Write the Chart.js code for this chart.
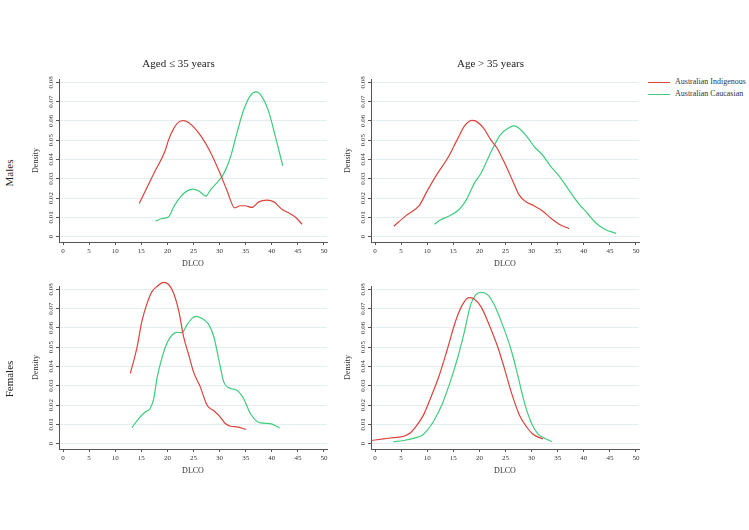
<!DOCTYPE html>
<html><head><meta charset="utf-8">
<script src="https://cdn.jsdelivr.net/npm/chart.js@4.4.1/dist/chart.umd.min.js"></script>
<style>
body{margin:0;background:#fff;width:749px;height:530px;position:relative;overflow:hidden;font-family:"Liberation Serif",serif;color:#222}
canvas{position:absolute}
.row{position:absolute;font-size:11px;white-space:nowrap;transform:translate(-50%,-50%) rotate(-90deg)}
.leg{position:absolute;font-size:8px;white-space:nowrap;color:#333;line-height:10px}
.sw{position:absolute;height:0;border-top:1.2px solid}
</style></head><body>
<canvas id="c1" width="300" height="215" style="left:30px;top:55px;width:300px;height:215px"></canvas>
<canvas id="c2" width="300" height="215" style="left:342px;top:55px;width:300px;height:215px"></canvas>
<canvas id="c3" width="300" height="215" style="left:30px;top:262px;width:300px;height:215px"></canvas>
<canvas id="c4" width="300" height="215" style="left:342px;top:262px;width:300px;height:215px"></canvas>
<div class="row" style="left:9px;top:173px">Males</div>
<div class="row" style="left:9px;top:379px">Females</div>
<div class="sw" style="left:648px;top:82px;width:22px;border-color:#d9443c"></div>
<div class="leg" style="left:675px;top:77px">Australian Indigenous</div>
<div class="sw" style="left:648px;top:94px;width:22px;border-color:#3fcc7c"></div>
<div class="leg" style="left:675px;top:89px">Australian Caucasian</div>
<script>
const colTitles = ['Aged \u2264 35 years', 'Age > 35 years'];
const seriesNames = ['Australian Indigenous', 'Australian Caucasian'];
const xTicks = [0,5,10,15,20,25,30,35,40,45,50];
const yTicks = [0,0.01,0.02,0.03,0.04,0.05,0.06,0.07,0.08];

// Males, aged <= 35
const mYoungIndX = [14.6,17.4,19.6,20.2,21.2,22.5,23.1,24.1,25.35,26.6,28.2,30.1,31.4,32.9,34.0,34.9,36.2,37.5,39.1,40.4,41.95,43.5,44.8,45.8];
const mYoungIndY = [0.0171,0.0327,0.0448,0.050,0.056,0.0599,0.0601,0.059,0.0558,0.0514,0.044,0.0327,0.024,0.0149,0.016,0.016,0.0151,0.018,0.0189,0.018,0.0142,0.0119,0.0094,0.0064];
const mYoungCauX = [17.7,19.0,20.2,21.2,22.5,23.8,24.9,26.0,27.4,28.2,29.5,30.65,32.1,33.3,34.6,35.9,37.0,38.1,39.4,40.7,42.1];
const mYoungCauY = [0.008,0.0094,0.0102,0.0154,0.0206,0.0237,0.0246,0.0237,0.021,0.024,0.028,0.0319,0.0414,0.0535,0.0656,0.0731,0.075,0.0726,0.0648,0.0518,0.0367];

// Males, age > 35
const mOldIndX = [3.6,6.0,8.5,9.9,11.8,14.1,15.7,17.3,18.6,19.5,20.8,22.1,23.4,24.7,26.3,27.6,28.9,30.5,32.1,33.7,35.3,37.2];
const mOldIndY = [0.0054,0.011,0.0162,0.0232,0.032,0.0415,0.050,0.0579,0.0603,0.0596,0.0562,0.0505,0.0458,0.0389,0.0294,0.0216,0.0181,0.0159,0.0133,0.0095,0.0064,0.0041];
const mOldCauX = [11.4,12.5,14.4,16.0,17.3,18.25,19.2,20.2,21.5,22.75,24.0,25.3,26.6,27.6,29.2,30.5,32.1,33.7,35.3,36.9,39.1,40.7,42.0,44.0,46.2];
const mOldCauY = [0.0064,0.0086,0.0109,0.0138,0.0181,0.0233,0.0285,0.0323,0.0397,0.0467,0.0527,0.0558,0.0574,0.0562,0.0515,0.0467,0.0423,0.0363,0.0314,0.0251,0.0168,0.0121,0.0078,0.0038,0.0017];

// Females, aged <= 35
const fYoungIndX = [12.9,14.2,15.1,16.1,17.05,18.0,19.3,20.2,21.2,22.2,23.1,24.1,25.0,26.3,27.6,28.9,30.1,31.1,32.1,33.3,35.1];
const fYoungIndY = [0.0364,0.0502,0.0632,0.0727,0.0788,0.0814,0.0836,0.0826,0.0779,0.0684,0.0554,0.0459,0.0372,0.0294,0.0199,0.017,0.0139,0.0104,0.009,0.0087,0.0073];
const fYoungCauX = [13.2,14.5,15.8,16.7,17.4,18.0,19.0,19.9,20.9,21.8,22.8,23.75,24.7,25.5,26.6,27.9,28.9,29.8,30.8,32.1,33.3,34.6,35.9,37.8,39.7,41.5];
const fYoungCauY = [0.0083,0.013,0.0165,0.0182,0.0234,0.0338,0.045,0.052,0.0563,0.0577,0.0575,0.0615,0.0649,0.066,0.0649,0.0618,0.0554,0.0442,0.032,0.0286,0.0277,0.0234,0.0156,0.0107,0.0104,0.0081];

// Females, age > 35
const fOldIndX = [-0.77,1.6,3.5,5.5,6.8,8.0,9.3,10.6,12.2,13.8,15.4,16.7,18.0,19.0,20.3,21.9,23.5,24.8,26.1,27.7,28.96,30.2,32.2];
const fOldIndY = [0.0016,0.0024,0.0031,0.0038,0.0056,0.0094,0.0149,0.0233,0.0345,0.0484,0.0632,0.0718,0.0757,0.075,0.071,0.0614,0.0502,0.0389,0.0267,0.0146,0.009,0.005,0.0024];
const fOldCauX = [3.5,5.5,7.7,9.0,10.0,11.3,12.9,14.5,15.8,17.05,18.3,19.3,20.3,21.6,22.8,24.45,26.1,27.35,28.6,29.9,31.2,32.5,33.9];
const fOldCauY = [0.001,0.0016,0.003,0.0042,0.0068,0.012,0.0207,0.0328,0.0441,0.0571,0.0718,0.0771,0.0784,0.0771,0.0722,0.0614,0.0484,0.0354,0.0215,0.0111,0.005,0.0028,0.001];

const FONT = '"Liberation Serif", "Times New Roman", serif';
const RED = '#d9443c', GREEN = '#3fcc7c';
const AXIS = '#555', GRID = '#e4eef0', TXT = '#333';

function pts(xs, ys){ return xs.map((x,i)=>({x:x, y:ys[i]})); }

function makeChart(id, title, ind, cau){
  const opts = {
    responsive:false, animation:false, devicePixelRatio:1,
    layout:{padding:{left:0,right:3,top:title?0:24,bottom:0}},
    plugins:{
      legend:{display:false}, tooltip:{enabled:false},
      title: title ? {display:true,text:title,color:'#222',font:{family:FONT,size:11,weight:'normal'},padding:{top:2.4,bottom:8.4}} : {display:false}
    },
    elements:{point:{radius:0}, line:{borderWidth:1.2, cubicInterpolationMode:'monotone'}},
    scales:{
      x:{type:'linear',min:-0.77,max:50.58,
        afterBuildTicks:s=>{s.ticks=xTicks.map(v=>({value:v}));},
        afterFit:s=>{s.height=28; s.paddingLeft=0; s.paddingRight=0;},
        grid:{drawOnChartArea:false,drawTicks:true,tickLength:3,tickColor:AXIS,tickWidth:1},
        border:{display:true,color:AXIS,width:1},
        ticks:{font:{family:FONT,size:7},color:TXT,padding:2,maxRotation:0,minRotation:0,autoSkip:false},
        title:{display:true,text:'DLCO',color:TXT,font:{family:FONT,size:8},padding:{top:0,bottom:1.2}}
      },
      y:{type:'linear',min:-0.0028,max:0.0817,
        afterBuildTicks:s=>{s.ticks=yTicks.map(v=>({value:v}));},
        afterFit:s=>{s.width=29; s.paddingTop=0; s.paddingBottom=0;},
        grid:{color:GRID,lineWidth:1,drawTicks:true,tickLength:3,tickColor:AXIS,tickWidth:1},
        border:{display:true,color:AXIS,width:1},
        ticks:{font:{family:FONT,size:7},color:TXT,minRotation:90,maxRotation:90,crossAlign:'center',padding:-1,autoSkip:false,
          callback:v=> v===0 ? '0' : v.toFixed(2)},
        title:{display:true,text:'Density',color:TXT,font:{family:FONT,size:8},padding:{top:1.2,bottom:0}}
      }
    }
  };
  new Chart(document.getElementById(id), {
    type:'line',
    data:{datasets:[
      {label:seriesNames[0], data:ind, borderColor:RED, backgroundColor:RED, fill:false, clip:false},
      {label:seriesNames[1], data:cau, borderColor:GREEN, backgroundColor:GREEN, fill:false, clip:false}
    ]},
    options:opts
  });
}
makeChart('c1', colTitles[0], pts(mYoungIndX,mYoungIndY), pts(mYoungCauX,mYoungCauY));
makeChart('c2', colTitles[1], pts(mOldIndX,mOldIndY), pts(mOldCauX,mOldCauY));
makeChart('c3', null, pts(fYoungIndX,fYoungIndY), pts(fYoungCauX,fYoungCauY));
makeChart('c4', null, pts(fOldIndX,fOldIndY), pts(fOldCauX,fOldCauY));
</script>
</body></html>
